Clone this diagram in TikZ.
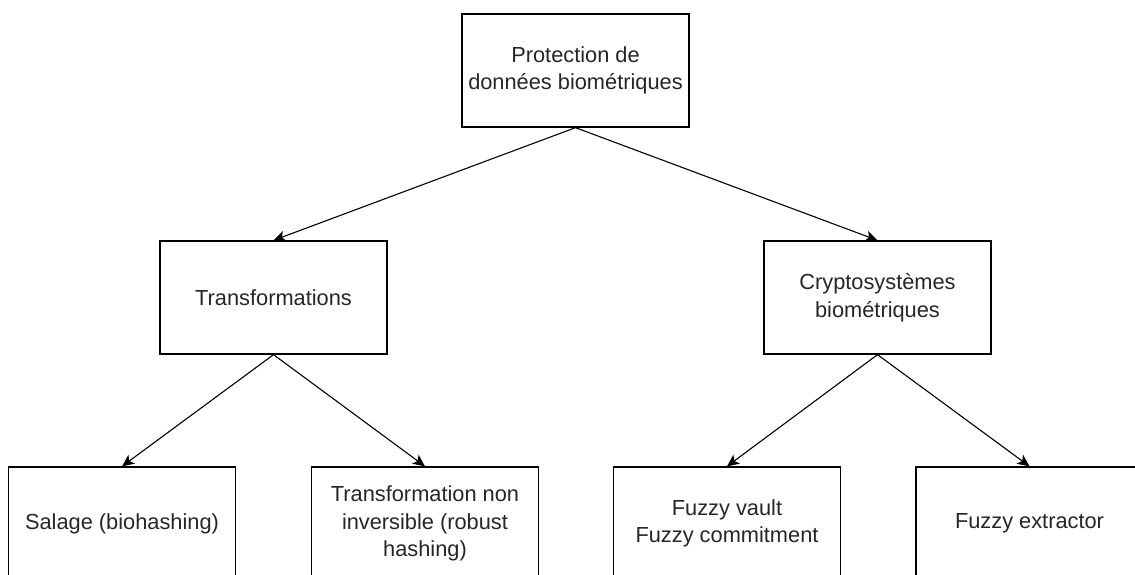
\documentclass[tikz,border=0pt]{standalone}
\usepackage{fontspec}
\setmainfont{Liberation Sans}
\usetikzlibrary{arrows.meta}
\begin{document}
\begin{tikzpicture}[x=1pt,y=-1pt,
  box/.style={draw, line width=1.3pt, rectangle, minimum width=227pt, minimum height=113pt,
    align=center, inner sep=2pt, font=\fontsize{21.8pt}{27.5pt}\selectfont, text=black!85},
  link/.style={line width=1.1pt, -{Stealth[length=12pt,width=11pt,inset=3pt]}}]
\path[use as bounding box, clip] (0,0) rectangle (1135,575);
\node[box] (top) at (575.5,70.5) {Protection de\\données biométriques};
\node[box] (trans) at (273.5,297.5) {Transformations};
\node[box] (crypto) at (877.5,297.5) {Cryptosystèmes\\biométriques};
\node[box] (salage) at (122,523.5) {Salage (biohashing)};
\node[box] (tni) at (425,523.5) {Transformation non\\inversible (robust\\hashing)};
\node[box] (fv) at (727,523.5) {Fuzzy vault\\Fuzzy commitment};
\node[box] (fe) at (1029.5,523.5) {Fuzzy extractor};
\draw[link] (top.south) -- (trans.north);
\draw[link] (top.south) -- (crypto.north);
\draw[link] (trans.south) -- (salage.north);
\draw[link] (trans.south) -- (tni.north);
\draw[link] (crypto.south) -- (fv.north);
\draw[link] (crypto.south) -- (fe.north);
\end{tikzpicture}
\end{document}
